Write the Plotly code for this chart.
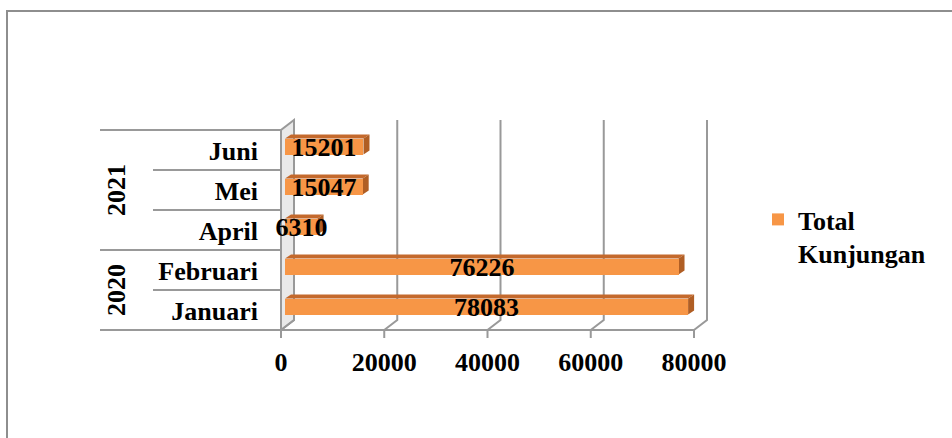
import plotly.graph_objects as go

# ---- data ----
years = ["2020", "2020", "2021", "2021", "2021"]
months = ["Januari", "Februari", "April", "Mei", "Juni"]
visits = [78083, 76226, 6310, 15047, 15201]
series_name = "Total Kunjungan"
tick_values = [0, 20000, 40000, 60000, 80000]
tick_labels = ["0", "20000", "40000", "60000", "80000"]

# ---- canvas / geometry ----
W, H = 952, 438
X_MAX = 80000
PLOT_W = 413                      # pixels spanned by 0..80000 on the bar plane
BAR_X0 = 285                      # pixel of value 0 on the bar plane
BAR_Y_BOTTOM, BAR_Y_TOP = 326.5, 126.5
ROW_PX = (BAR_Y_BOTTOM - BAR_Y_TOP) / len(months)
PX = X_MAX / PLOT_W               # value units per pixel
ROW = 1 / ROW_PX                  # category units per pixel

# axis area is a little larger than the bar plane so the 3-D frame fits inside
PAD_L, PAD_R, PAD_T, PAD_B = 10, 14, 8.5, 12.5

FRONT_DX, FRONT_DY = -4 * PX, -3.5 * ROW   # front plane vs bar plane
BACK_DX, BACK_DY = 9 * PX, 6.5 * ROW       # back plane vs bar plane
BAR_WIDTH = 0.4
FACE_DX, FACE_DY = 6 * PX, 4 * ROW         # depth of each bar

FONT = "Liberation Serif, Times New Roman, serif"
GRID = "#999999"
ORANGE = "#F79646"
ORANGE_TOP = "#C4692C"
ORANGE_SIDE = "#B05E24"

n = len(months)
idx = list(range(n))
front_bottom = -0.5 + FRONT_DY
front_top = n - 0.5 + FRONT_DY
back_bottom = -0.5 + BACK_DY
back_top = n - 0.5 + BACK_DY


def paper_x(px):
    return px / W


def paper_y(py):
    return 1 - py / H


fig = go.Figure()

fig.add_trace(go.Bar(
    y=idx,
    x=visits,
    orientation="h",
    width=BAR_WIDTH,
    name=series_name.replace(" ", "<br>"),
    marker=dict(color=ORANGE, line=dict(width=0)),
    text=[str(v) for v in visits],
    textposition="inside",
    insidetextanchor="middle",
    constraintext="none",
    textangle=0,
    insidetextfont=dict(family=FONT, size=26, color="black", weight="bold"),
    cliponaxis=False,
    showlegend=True,
))

shapes = []

# back-wall gridlines with their floor segments
for v in tick_values:
    xb = v + BACK_DX
    xf = v + FRONT_DX
    shapes.append(dict(
        type="path", xref="x", yref="y", layer="below",
        path=f"M{xb},{back_top} L{xb},{back_bottom} L{xf},{front_bottom}",
        line=dict(color=GRID, width=2),
    ))

# side wall at zero
shapes.append(dict(
    type="path", xref="x", yref="y", layer="below",
    path=(f"M{FRONT_DX},{front_bottom} L{FRONT_DX},{front_top} "
          f"L{BACK_DX},{back_top} L{BACK_DX},{back_bottom} Z"),
    fillcolor="rgba(215,215,215,0.55)",
    line=dict(color=GRID, width=2),
))

# front floor edge and tick marks
shapes.append(dict(
    type="line", xref="x", yref="y", layer="below",
    x0=FRONT_DX, x1=X_MAX + FRONT_DX, y0=front_bottom, y1=front_bottom,
    line=dict(color=GRID, width=2),
))
for v in tick_values:
    shapes.append(dict(
        type="line", xref="x", yref="y", layer="below",
        x0=v + FRONT_DX, x1=v + FRONT_DX,
        y0=front_bottom, y1=front_bottom - 8 * ROW,
        line=dict(color=GRID, width=2),
    ))

# category table lines (year boundaries run further left)
for k in range(n + 1):
    y = k - 0.5 + FRONT_DY
    is_year_edge = k == 0 or k == n or years[k] != years[k - 1]
    shapes.append(dict(
        type="line", xref="paper", yref="y", layer="below",
        x0=paper_x(100 if is_year_edge else 153), x1=paper_x(281),
        y0=y, y1=y,
        line=dict(color=GRID, width=2),
    ))

# 3-D faces of each bar
for i, v in zip(idx, visits):
    top = i + BAR_WIDTH / 2
    bot = i - BAR_WIDTH / 2
    shapes.append(dict(
        type="path", xref="x", yref="y", layer="below",
        path=(f"M0,{top} L{v},{top} L{v + FACE_DX},{top + FACE_DY} "
              f"L{FACE_DX},{top + FACE_DY} Z"),
        fillcolor=ORANGE_TOP, line=dict(width=0),
    ))
    shapes.append(dict(
        type="path", xref="x", yref="y", layer="below",
        path=(f"M{v},{bot} L{v},{top} L{v + FACE_DX},{top + FACE_DY} "
              f"L{v + FACE_DX},{bot + FACE_DY} Z"),
        fillcolor=ORANGE_SIDE, line=dict(width=0),
    ))

# outer chart frame (top and left edges)
shapes.append(dict(
    type="path", xref="paper", yref="paper", layer="above",
    path=f"M{paper_x(7)},0 L{paper_x(7)},{paper_y(11)} L1,{paper_y(11)}",
    line=dict(color="#8E8E8E", width=2),
))

# year group labels
annotations = []
for yr in dict.fromkeys(years):
    rows = [i for i, y in zip(idx, years) if y == yr]
    annotations.append(dict(
        text=yr, xref="paper", yref="y",
        x=paper_x(116), y=(min(rows) + max(rows)) / 2 + FRONT_DY,
        xanchor="center", yanchor="middle",
        textangle=-90, showarrow=False,
        font=dict(family=FONT, size=26, color="black", weight="bold"),
    ))

fig.update_layout(
    width=W, height=H,
    margin=dict(l=0, r=0, t=0, b=0, autoexpand=False),
    paper_bgcolor="white", plot_bgcolor="white",
    shapes=shapes,
    annotations=annotations,
    bargap=0,
    xaxis=dict(
        domain=[paper_x(BAR_X0 - PAD_L), paper_x(BAR_X0 + PLOT_W + PAD_R)],
        range=[-PAD_L * PX, X_MAX + PAD_R * PX],
        tickvals=tick_values, ticktext=tick_labels,
        showgrid=False, zeroline=False, showline=False, ticks="",
        automargin=False,
        ticklabelshift=-4, ticklabelstandoff=5,
        tickfont=dict(family=FONT, size=26, color="black", weight="bold"),
    ),
    yaxis=dict(
        domain=[paper_y(BAR_Y_BOTTOM + PAD_B), paper_y(BAR_Y_TOP - PAD_T)],
        range=[-0.5 - PAD_B * ROW, n - 0.5 + PAD_T * ROW],
        tickvals=idx, ticktext=months,
        showgrid=False, zeroline=False, showline=False, ticks="",
        automargin=False,
        ticklabelshift=4, ticklabelstandoff=16,
        tickfont=dict(family=FONT, size=26, color="black", weight="bold"),
    ),
    legend=dict(
        x=paper_x(758), y=paper_y(196), xanchor="left", yanchor="top",
        valign="top",
        font=dict(family=FONT, size=26, color="black", weight="bold"),
        bgcolor="rgba(0,0,0,0)",
    ),
)

fig.write_html("out.html")
